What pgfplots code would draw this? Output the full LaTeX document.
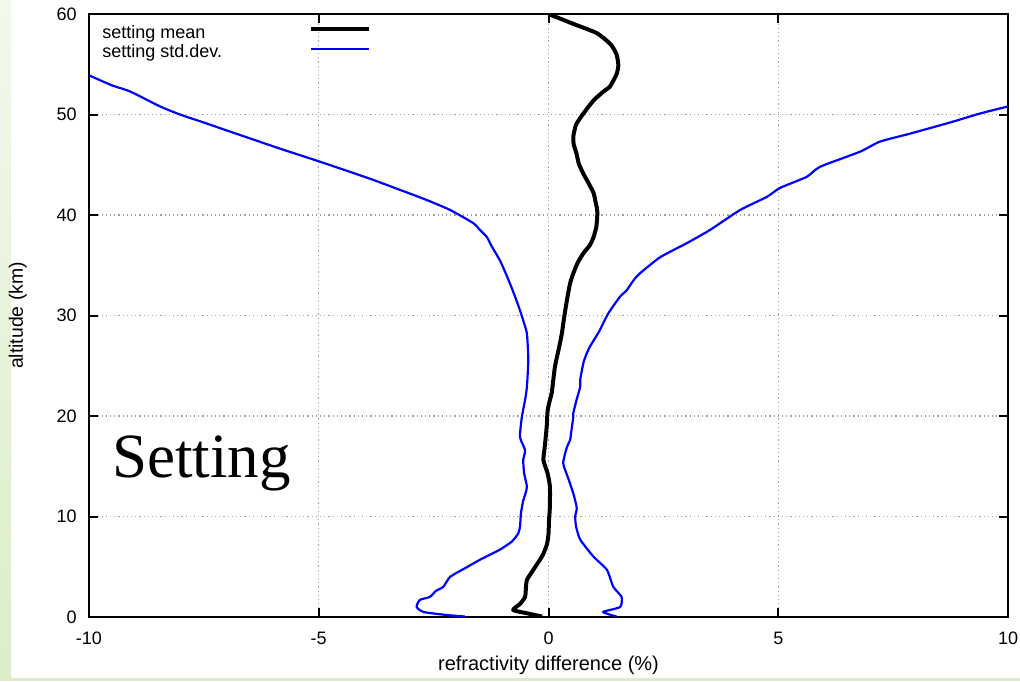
\documentclass[border=0pt]{standalone}
\usepackage{pgfplots}
\pgfplotsset{compat=1.18}
\usepackage{fontspec}
\setmainfont{Liberation Sans}
\newfontfamily\timesfont{Liberation Serif}
\definecolor{stdblue}{RGB}{0,0,255}
\definecolor{gridgray}{RGB}{160,160,160}
\definecolor{greenA}{RGB}{242,248,236}
\definecolor{greenB}{RGB}{220,237,200}

\pgfplotstableread{
x y
-0.14 0.05
-0.47 0.37
-0.77 0.7
-0.62 1.3
-0.51 2.0
-0.49 3.0
-0.47 3.7
-0.33 4.7
-0.20 5.6
-0.11 6.3
-0.03 7.3
0.00 8.3
0.01 9.5
0.03 11.0
0.03 13.0
-0.02 14.3
-0.11 15.6
-0.08 17.0
-0.04 18.9
-0.02 20.5
0.03 21.6
0.07 22.3
0.14 24.9
0.22 26.6
0.29 28.2
0.34 29.8
0.40 31.5
0.47 33.2
0.54 34.2
0.64 35.3
0.76 36.2
0.90 37.0
0.98 37.8
1.04 38.8
1.06 39.8
1.06 40.5
1.02 41.4
0.98 42.2
0.88 43.1
0.76 44.1
0.66 45.1
0.61 46.1
0.55 47.0
0.54 47.8
0.60 49.0
0.76 50.1
0.98 51.4
1.20 52.3
1.34 52.8
1.48 54.0
1.52 54.9
1.48 56.0
1.35 57.0
1.05 58.1
0.55 59.0
0.00 60.0
}\meandata

\pgfplotstableread{
x y
-1.82 0.05
-2.22 0.2
-2.72 0.5
-2.87 1.0
-2.80 1.7
-2.58 2.0
-2.45 2.6
-2.29 3.0
-2.14 4.0
-1.80 4.9
-1.49 5.7
-1.06 6.7
-0.80 7.5
-0.66 8.3
-0.62 9.0
-0.60 10.3
-0.55 11.6
-0.50 12.3
-0.47 13.0
-0.53 14.3
-0.55 15.6
-0.51 16.6
-0.62 17.9
-0.58 19.9
-0.51 21.6
-0.47 22.9
-0.44 25.6
-0.47 28.2
-0.55 29.5
-0.62 30.5
-0.73 31.9
-0.84 33.2
-0.95 34.4
-1.06 35.5
-1.25 37.0
-1.34 37.8
-1.49 38.5
-1.64 39.2
-2.14 40.5
-2.60 41.4
-2.94 42.0
-3.88 43.6
-4.97 45.3
-5.84 46.6
-6.93 48.3
-7.50 49.2
-8.02 50.0
-8.45 50.8
-9.11 52.3
-9.50 52.9
-10.0 53.9
}\stdleft

\pgfplotstableread{
x y
1.48 0.05
1.19 0.5
1.56 1.0
1.59 2.0
1.41 3.0
1.27 4.7
0.98 6.0
0.69 7.7
0.60 9.0
0.58 10.0
0.61 10.6
0.61 11.0
0.54 12.3
0.43 13.8
0.32 15.3
0.40 16.9
0.47 17.6
0.50 18.6
0.54 19.9
0.54 20.3
0.61 21.6
0.69 22.9
0.69 23.6
0.76 25.3
0.83 26.2
0.90 26.9
1.10 28.4
1.30 30.2
1.56 31.9
1.70 32.5
1.85 33.5
1.99 34.2
2.43 35.8
3.01 37.2
3.51 38.5
4.17 40.5
4.75 41.8
5.04 42.7
5.62 43.8
5.91 44.8
6.78 46.3
7.21 47.3
7.87 48.1
8.81 49.3
9.39 50.1
10.0 50.8
}\stdright

\begin{document}
\begin{tikzpicture}
% slide background strips
\shade[top color=greenA, bottom color=greenB] (0pt,1.5pt) rectangle (5.5pt,340.5pt);
\fill[greenB] (0pt,0pt) rectangle (510pt,1.5pt);
\begin{axis}[
  at={(44.5pt,32pt)}, anchor=south west,
  scale only axis, width=459.5pt, height=301.5pt,
  xmin=-10, xmax=10, ymin=0, ymax=60,
  xtick={-10,-5,0,5,10}, ytick={0,10,20,30,40,50,60},
  minor tick num=0,
  tick align=inside, major tick length=4.5pt,
  axis line style={line width=1pt},
  every tick/.style={black, line width=1pt},
  grid=major,
  major grid style={gridgray, line width=0.6pt, dash pattern=on 0.6pt off 1.5pt},
  font=\fontsize{9}{10.8}\selectfont,
  tick label style={font=\fontsize{9}{10.8}\selectfont, inner sep=0pt},
  xticklabel style={yshift=-7.5pt},
  yticklabel style={xshift=-6pt},
  /pgf/number format/assume math mode=true,
  xlabel={refractivity difference (\%)},
  ylabel={altitude (km)},
  xlabel style={at={(axis description cs:0.5,-0.0796)}, anchor=center, inner sep=0pt, font=\fontsize{10}{12}\selectfont},
  ylabel style={at={(axis description cs:-0.0773,0.5)}, anchor=center, inner sep=0pt, font=\fontsize{9.7}{11.6}\selectfont},
  legend plot pos=right,
  legend cell align=left,
  legend image code/.code={\draw[#1] (0pt,2.5pt) -- (29pt,2.5pt);},
  legend style={draw=none, fill=none, at={(0.0141,0.9834)}, anchor=north west,
    inner sep=0pt, row sep=0pt, column sep=0pt,
    nodes={inner sep=0pt, text height=7pt, text depth=2.75pt, font=\fontsize{9}{10.8}\selectfont}},
]
\addplot[black, line width=2pt, line join=round, smooth, tension=0.35] table[x=x,y=y] {\meandata};
\addlegendentry{\makebox[103.5pt][l]{setting mean}}
\addplot[stdblue, line width=1.1pt, line join=round, smooth, tension=0.35] table[x=x,y=y] {\stdleft};
\addlegendentry{\makebox[103.5pt][l]{setting std.dev.}}
\addplot[stdblue, line width=1.1pt, line join=round, smooth, tension=0.35, forget plot] table[x=x,y=y] {\stdright};
\node[anchor=base west, inner sep=0pt, font=\timesfont\fontsize{31.5}{34}\selectfont] at (axis cs:-9.5,13.9) {Setting};
\end{axis}
\pgfresetboundingbox
\path[use as bounding box] (0pt,0pt) rectangle (510pt,340.5pt);
\end{tikzpicture}
\end{document}
